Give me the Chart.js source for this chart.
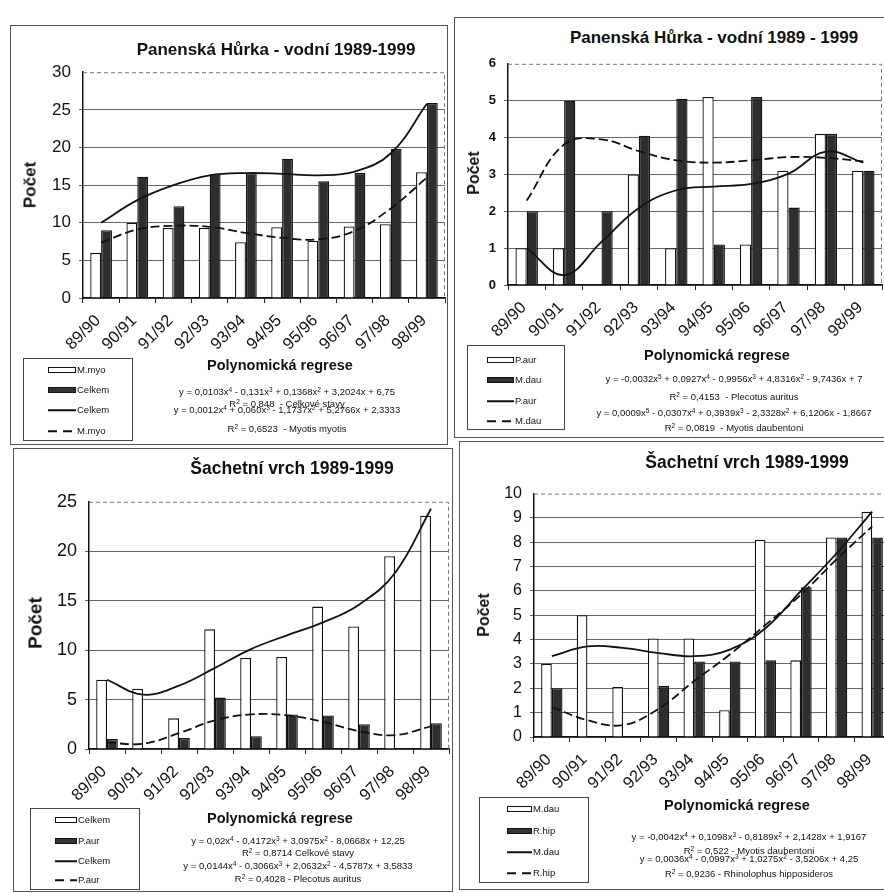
<!DOCTYPE html>
<html>
<head>
<meta charset="utf-8">
<script src="https://cdn.jsdelivr.net/npm/chart.js@4.4.1/dist/chart.umd.min.js"></script>
<style>
  body { margin: 0; width: 884px; height: 893px; position: relative; overflow: hidden; background: #fff;
         font-family: "Liberation Sans", Arial, sans-serif; color: #111; }
  .frame { position: absolute; border: 1px solid #555; overflow: hidden; box-sizing: border-box; }
  .frame canvas { position: absolute; }
  .t { position: absolute; white-space: nowrap; transform: translate(-50%, -50%); line-height: 1; }
  .title { font-weight: bold; }
  .ylab { font-weight: bold; transform: translate(-50%, -50%) rotate(-90deg); }
  .eq { font-size: 9.5px; }
  .eq sup { font-size: 6.5px; vertical-align: 3px; line-height: 0; }
  .legend { position: absolute; border: 1px solid #444; box-sizing: border-box; }
  .lg { position: absolute; font-size: 9.5px; white-space: nowrap; transform: translateY(-50%); line-height: 1; }
  .sw { position: absolute; transform: translateY(-50%); box-sizing: border-box; }
</style>
</head>
<body>
<script>
const seasons = ['89/90', '90/91', '91/92', '92/93', '93/94', '94/95', '95/96', '96/97', '97/98', '98/99'];

// Panenská Hůrka - vodní, Myotis myotis + celkem
const phMyo = [6, 10, 9.3, 9.3, 7.4, 9.4, 7.6, 9.5, 9.8, 16.7];
const phCelkem = [9, 16.1, 12.2, 16.4, 16.6, 18.5, 15.5, 16.6, 19.8, 25.9];
const phCelkemTrend = [10, 13, 15, 16.3, 16.6, 16.5, 16.3, 16.8, 19.2, 25.8];
const phMyoTrend = [7.35, 9.1, 9.6, 9.45, 8.65, 8, 7.8, 8.9, 11.9, 16];

// Panenská Hůrka - vodní, Plecotus auritus + Myotis daubentoni
const phAur = [1, 1, 0, 3, 1, 5.1, 1.1, 3.1, 4.1, 3.1];
const phDau = [2, 5, 2, 4.05, 5.05, 1.1, 5.1, 2.1, 4.1, 3.1];
const phAurTrend = [1.0, 0.27, 1.17, 2.09, 2.57, 2.67, 2.74, 3.02, 3.62, 3.32];
const phDauTrend = [2.29, 3.81, 3.95, 3.63, 3.38, 3.32, 3.38, 3.47, 3.45, 3.35];

// Šachetní vrch, celkem + Plecotus auritus
const svCelkem = [7, 6.1, 3.1, 12.1, 9.2, 9.3, 14.4, 12.4, 19.5, 23.6];
const svAur = [1, 0, 1.1, 5.2, 1.3, 3.5, 3.4, 2.5, 0, 2.6];
const svCelkemTrend = [7, 5.5, 6.4, 8.2, 10.1, 11.5, 12.8, 14.6, 17.8, 24.3];
const svAurTrend = [0.66, 0.53, 1.6, 2.9, 3.5, 3.4, 2.75, 1.8, 1.4, 2.3];

// Šachetní vrch, Myotis daubentoni + Rhinolophus hipposideros
const svDau = [3, 5, 2.05, 4.05, 4.05, 1.1, 8.1, 3.15, 8.2, 9.25];
const svHip = [2, 0, 0, 2.1, 3.1, 3.1, 3.15, 6.15, 8.2, 8.2];
const svDauTrend = [3.32, 3.72, 3.66, 3.45, 3.32, 3.59, 4.47, 6.0, 7.55, 9.26];
const svHipTrend = [1.23, 0.69, 0.49, 1.16, 2.3, 3.39, 4.6, 5.85, 7.3, 8.65];

const FONT = '"Liberation Sans", Arial, sans-serif';
const AXW = 60, AXH = 70, PADT = 14, PADR = 14;

// dashed top/right border of the plot area
const plotFrame = {
  id: 'plotFrame',
  beforeDatasetsDraw(chart) {
    const { ctx, chartArea: a } = chart;
    ctx.save();
    ctx.strokeStyle = '#777';
    ctx.lineWidth = 1;
    ctx.setLineDash([4, 3]);
    ctx.beginPath();
    ctx.moveTo(a.left, a.top + 0.5);
    ctx.lineTo(a.right - 0.5, a.top + 0.5);
    ctx.lineTo(a.right - 0.5, a.bottom);
    ctx.stroke();
    ctx.restore();
  }
};

const panels = [
  {
    frame: [10, 25, 438, 420], plot: [83, 68, 445, 298], max: 30, step: 5,
    yFont: { size: 17 },
    white: phMyo, dark: phCelkem, solid: phCelkemTrend, dashed: phMyoTrend,
    title: ['Panenská Hůrka - vodní 1989-1999', 276, 49, 17],
    ylab: [30, 185, 17], xlab: [280, 365],
    legend: { box: [23, 358, 110, 83], sx: 48, sw: 28, rows: [370, 390, 410, 431], names: ['M.myo', 'Celkem', 'Celkem', 'M.myo'] },
    eq: {
      cx: 287, rows: [392, 404, 410, 429], lines: [
        'y = 0,0103x<sup>4</sup> - 0,131x<sup>3</sup> + 0,1368x<sup>2</sup> + 3,2024x + 6,75',
        'R<sup>2</sup> = 0,848&nbsp; - Celkové stavy',
        'y = 0,0012x<sup>4</sup> + 0,060x<sup>3</sup> - 1,1737x<sup>2</sup> + 5,2766x + 2,3333',
        'R<sup>2</sup> = 0,6523&nbsp; - Myotis myotis'
      ]
    }
  },
  {
    frame: [454, 17, 440, 421], plot: [508, 62, 882, 285], max: 6, step: 1,
    yFont: { size: 13, weight: 'bold' },
    white: phAur, dark: phDau, solid: phAurTrend, dashed: phDauTrend,
    title: ['Panenská Hůrka - vodní 1989 - 1999', 714, 37, 17],
    ylab: [474, 173, 16], xlab: [717, 355],
    legend: { box: [467, 345, 98, 85], sx: 487, sw: 27, rows: [360, 380, 401, 421], names: ['P.aur', 'M.dau', 'P.aur', 'M.dau'] },
    eq: {
      cx: 734, rows: [379, 397, 413, 428], lines: [
        'y = -0,0032x<sup>5</sup> + 0,0927x<sup>4</sup> - 0,9956x<sup>3</sup> + 4,8316x<sup>2</sup> - 9,7436x + 7',
        'R<sup>2</sup> = 0,4153&nbsp; - Plecotus auritus',
        'y = 0,0009x<sup>5</sup> - 0,0307x<sup>4</sup> + 0,3939x<sup>3</sup> - 2,3328x<sup>2</sup> + 6,1206x - 1,8667',
        'R<sup>2</sup> = 0,0819&nbsp; - Myotis daubentoni'
      ]
    }
  },
  {
    frame: [13, 448, 440, 444], plot: [89, 497, 449, 749], max: 25, step: 5,
    yFont: { size: 18 },
    white: svCelkem, dark: svAur, solid: svCelkemTrend, dashed: svAurTrend,
    title: ['Šachetní vrch 1989-1999', 292, 469, 17.5],
    ylab: [35, 623, 19], xlab: [280, 818],
    legend: { box: [30, 808, 110, 82], sx: 55, sw: 22, rows: [820, 841, 861, 880], names: ['Celkem', 'P.aur', 'Celkem', 'P.aur'] },
    eq: {
      cx: 298, rows: [841, 853, 866, 879], lines: [
        'y = 0,02x<sup>4</sup> - 0,4172x<sup>3</sup> + 3,0975x<sup>2</sup> - 8,0668x + 12,25',
        'R<sup>2</sup> = 0,8714 Celkové stavy',
        'y = 0,0144x<sup>4</sup> - 0,3066x<sup>3</sup> + 2,0632x<sup>2</sup> - 4,5787x + 3,5833',
        'R<sup>2</sup> = 0,4028 - Plecotus auritus'
      ]
    }
  },
  {
    frame: [459, 441, 440, 449], plot: [534, 490, 890, 737], max: 10, step: 1,
    yFont: { size: 16 },
    white: svDau, dark: svHip, solid: svDauTrend, dashed: svHipTrend,
    title: ['Šachetní vrch 1989-1999', 747, 463, 17.5],
    ylab: [484, 615, 16], xlab: [737, 805],
    legend: { box: [479, 797, 110, 86], sx: 507, sw: 25, rows: [809, 831, 852, 873], names: ['M.dau', 'R.hip', 'M.dau', 'R.hip'] },
    eq: {
      cx: 749, rows: [837, 851, 859, 874], lines: [
        'y = -0,0042x<sup>4</sup> + 0,1098x<sup>3</sup> - 0,8189x<sup>2</sup> + 2,1428x + 1,9167',
        'R<sup>2</sup> = 0,522 - Myotis daubentoni',
        'y = 0,0036x<sup>4</sup> - 0,0997x<sup>3</sup> + 1,0275x<sup>2</sup> - 3,5206x + 4,25',
        'R<sup>2</sup> = 0,9236 - Rhinolophus hipposideros'
      ]
    }
  }
];

function addText(cls, x, y, html, size) {
  const el = document.createElement('div');
  el.className = 't ' + cls;
  el.style.left = x + 'px';
  el.style.top = y + 'px';
  if (size) el.style.fontSize = size + 'px';
  el.innerHTML = html;
  document.body.appendChild(el);
  return el;
}

function addLegend(lg) {
  const [bx, by, bw, bh] = lg.box;
  const box = document.createElement('div');
  box.className = 'legend';
  Object.assign(box.style, { left: bx + 'px', top: by + 'px', width: bw + 'px', height: bh + 'px' });
  document.body.appendChild(box);
  const kinds = ['white', 'dark', 'solid', 'dashed'];
  lg.rows.forEach((ry, i) => {
    const sw = document.createElement('div');
    sw.className = 'sw';
    const st = { left: lg.sx + 'px', top: ry + 'px', width: lg.sw + 'px' };
    if (kinds[i] === 'white') Object.assign(st, { height: '6px', border: '1px solid #111', background: '#fff' });
    if (kinds[i] === 'dark') Object.assign(st, { height: '6px', border: '1px solid #111', background: '#333' });
    if (kinds[i] === 'solid') Object.assign(st, { height: '1.5px', background: '#111' });
    if (kinds[i] === 'dashed') Object.assign(st, { height: '1.5px', background: 'repeating-linear-gradient(90deg,#111 0 9px,transparent 9px 15px)' });
    Object.assign(sw.style, st);
    document.body.appendChild(sw);
    const tx = document.createElement('div');
    tx.className = 'lg';
    tx.style.left = (lg.sx + lg.sw + 1) + 'px';
    tx.style.top = ry + 'px';
    tx.textContent = lg.names[i];
    document.body.appendChild(tx);
  });
}

function drawPanel(p) {
  const [fx, fy, fw, fh] = p.frame;
  const frame = document.createElement('div');
  frame.className = 'frame';
  Object.assign(frame.style, { left: fx + 'px', top: fy + 'px', width: fw + 'px', height: fh + 'px' });
  document.body.appendChild(frame);

  const [l, t, r, b] = p.plot;
  const cw = r - l + AXW + PADR, ch = b - t + PADT + AXH;
  const canvas = document.createElement('canvas');
  canvas.width = cw;
  canvas.height = ch;
  Object.assign(canvas.style, {
    left: (l - AXW - fx - 1) + 'px', top: (t - PADT - fy - 1) + 'px',
    width: cw + 'px', height: ch + 'px'
  });
  frame.appendChild(canvas);

  new Chart(canvas, {
    type: 'bar',
    data: {
      labels: seasons,
      datasets: [
        { type: 'line', data: p.solid, borderColor: '#111', borderWidth: 1.8, pointRadius: 0, tension: 0.4, order: 0 },
        { type: 'line', data: p.dashed, borderColor: '#111', borderWidth: 1.8, borderDash: [9, 4], pointRadius: 0, tension: 0.4, order: 0 },
        { data: p.white, backgroundColor: '#fff', borderColor: '#111', borderWidth: 1.3, order: 1 },
        { data: p.dark, backgroundColor: '#2e2e2e', borderColor: '#111', borderWidth: 1.3, order: 1 }
      ]
    },
    options: {
      responsive: false,
      animation: false,
      devicePixelRatio: 1,
      layout: { padding: { left: 0, top: PADT, right: PADR, bottom: 0 } },
      datasets: { bar: { categoryPercentage: 0.6, barPercentage: 1 } },
      plugins: { legend: { display: false }, tooltip: { enabled: false } },
      scales: {
        x: {
          grid: { display: true, drawOnChartArea: false, tickLength: 5, color: '#222', offset: true },
          border: { color: '#111', width: 1.5 },
          ticks: { autoSkip: false, minRotation: 45, maxRotation: 45, color: '#111', padding: 8, labelOffset: -3,
                   font: { family: FONT, size: 16.5 } },
          afterFit: s => { s.height = AXH; }
        },
        y: {
          min: 0, max: p.max,
          ticks: { stepSize: p.step, color: '#111', padding: 8,
                   font: Object.assign({ family: FONT }, p.yFont) },
          grid: { color: c => (c.tick && c.tick.value === p.max) ? 'rgba(0,0,0,0)' : '#666', tickLength: 4, lineWidth: 1 },
          border: { color: '#111', width: 1.5 },
          afterFit: s => { s.width = AXW; }
        }
      }
    },
    plugins: [plotFrame]
  });

  addText('title', p.title[1], p.title[2], p.title[0], p.title[3]);
  addText('ylab', p.ylab[0], p.ylab[1], 'Počet', p.ylab[2]);
  addText('title', p.xlab[0], p.xlab[1], 'Polynomická regrese', 14.5);
  addLegend(p.legend);
  p.eq.lines.forEach((line, i) => addText('eq', p.eq.cx, p.eq.rows[i], line));
}

panels.forEach(drawPanel);
</script>
</body>
</html>
